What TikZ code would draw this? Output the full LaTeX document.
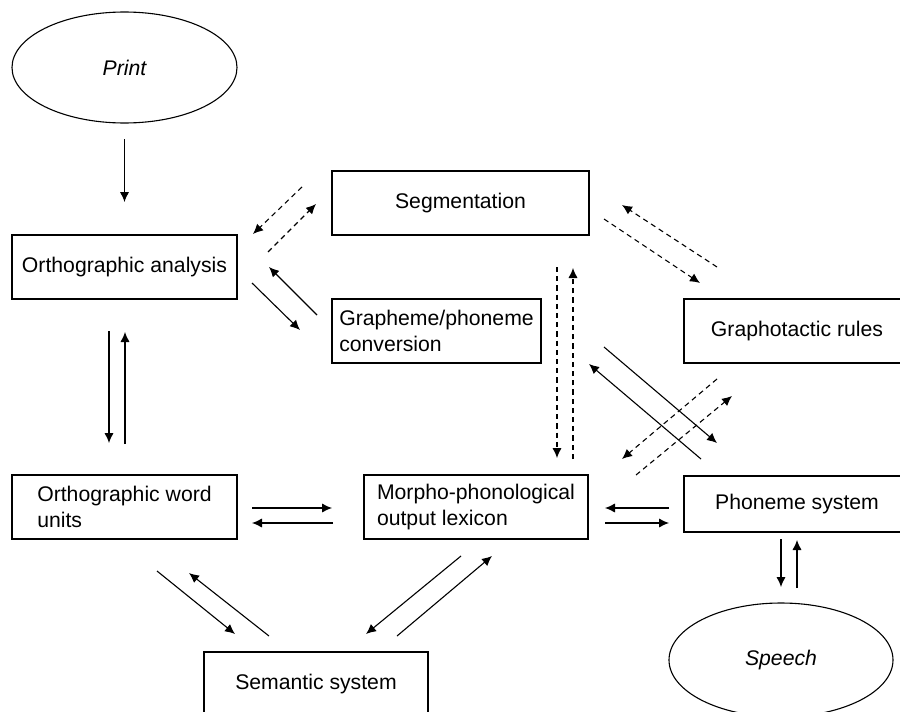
\documentclass[tikz,border=0pt]{standalone}
\usepackage{fontspec}
\setmainfont{Liberation Sans}
\usetikzlibrary{arrows.meta,shapes.geometric}
\begin{document}
\begin{tikzpicture}[x=0.5pt,y=-0.5pt,
  font=\fontsize{10.6pt}{13pt}\selectfont,
  box/.style={draw,line width=0.55pt,rectangle,inner sep=0pt,minimum width=#1*0.5pt},
  oval/.style={draw,line width=0.55pt,ellipse,inner sep=0pt,font=\fontsize{10.6pt}{13pt}\selectfont\itshape},
  arr/.style={line width=0.55pt,-{Latex[length=5pt,width=4.6pt]}},
  darr/.style={arr,dash pattern=on 2.6pt off 2pt}]
\useasboundingbox (0,0) rectangle (900,712);
% nodes
\node[oval,minimum width=112.5pt,minimum height=55.5pt] (print) at (124.5,67.5) {Print};
\node[box=225,minimum height=32pt] (oa) at (124.5,267) {Orthographic analysis};
\node[box=257,minimum height=32pt] (seg) at (460.5,203) {Segmentation};
\node[box=209,minimum height=32pt,align=left] (gp) at (436.5,331) {Grapheme/phoneme\\conversion};
\node[box=226,minimum height=32pt] (gr) at (797,331) {Graphotactic rules};
\node[box=225,minimum height=32pt,align=left] (ow) at (124.5,507) {Orthographic word\\units};
\node[box=224,minimum height=32pt,align=left] (mp) at (476,507) {Morpho-phonological\\output lexicon};
\node[box=226,minimum height=28pt] (ph) at (797,504) {Phoneme system};
\node[box=224,minimum height=32pt] (sem) at (316,684) {Semantic system};
\node[oval,minimum width=112pt,minimum height=57pt] (sp) at (781,660) {Speech};
% arrow end points
\coordinate (a1s) at (124.5,139); \coordinate (a1e) at (124.5,202);
\coordinate (a2s) at (302,187);   \coordinate (a2e) at (253,234);
\coordinate (a3s) at (268,252);   \coordinate (a3e) at (316,204);
\coordinate (a4s) at (317,315);   \coordinate (a4e) at (269,267);
\coordinate (a5s) at (252,283);   \coordinate (a5e) at (300,330);
\coordinate (a6s) at (717,267);   \coordinate (a6e) at (622,205);
\coordinate (a7s) at (604,219);   \coordinate (a7e) at (700,283);
\coordinate (a8s) at (557,267);   \coordinate (a8e) at (557,458);
\coordinate (a9s) at (573,459);   \coordinate (a9e) at (573,268);
\coordinate (a10s) at (604,347);  \coordinate (a10e) at (717,443);
\coordinate (a11s) at (701,459);  \coordinate (a11e) at (589,364);
\coordinate (a12s) at (717,379);  \coordinate (a12e) at (622,459);
\coordinate (a13s) at (636,475);  \coordinate (a13e) at (732,396);
\coordinate (a14s) at (109,331);  \coordinate (a14e) at (109,443);
\coordinate (a15s) at (125,444);  \coordinate (a15e) at (125,332);
\coordinate (a16s) at (252,508);  \coordinate (a16e) at (332,508);
\coordinate (a17s) at (333,523);  \coordinate (a17e) at (252,523);
\coordinate (a18s) at (669,508);  \coordinate (a18e) at (605,508);
\coordinate (a19s) at (605,523);  \coordinate (a19e) at (669,523);
\coordinate (a20s) at (781,539);  \coordinate (a20e) at (781,587);
\coordinate (a21s) at (797,588);  \coordinate (a21e) at (797,540);
\coordinate (a22s) at (157,571);  \coordinate (a22e) at (235,634);
\coordinate (a23s) at (269,636);  \coordinate (a23e) at (189,573);
\coordinate (a24s) at (461,556);  \coordinate (a24e) at (366,634);
\coordinate (a25s) at (397,636);  \coordinate (a25e) at (492,556);
% solid arrows
\foreach \i in {1,4,5,10,11,14,15,16,17,18,19,20,21,22,23,24,25}
  \draw[arr] (a\i s) -- (a\i e);
% dashed arrows
\foreach \i in {2,3,6,7,8,9,12,13}
  \draw[darr] (a\i s) -- (a\i e);
\end{tikzpicture}
\end{document}
